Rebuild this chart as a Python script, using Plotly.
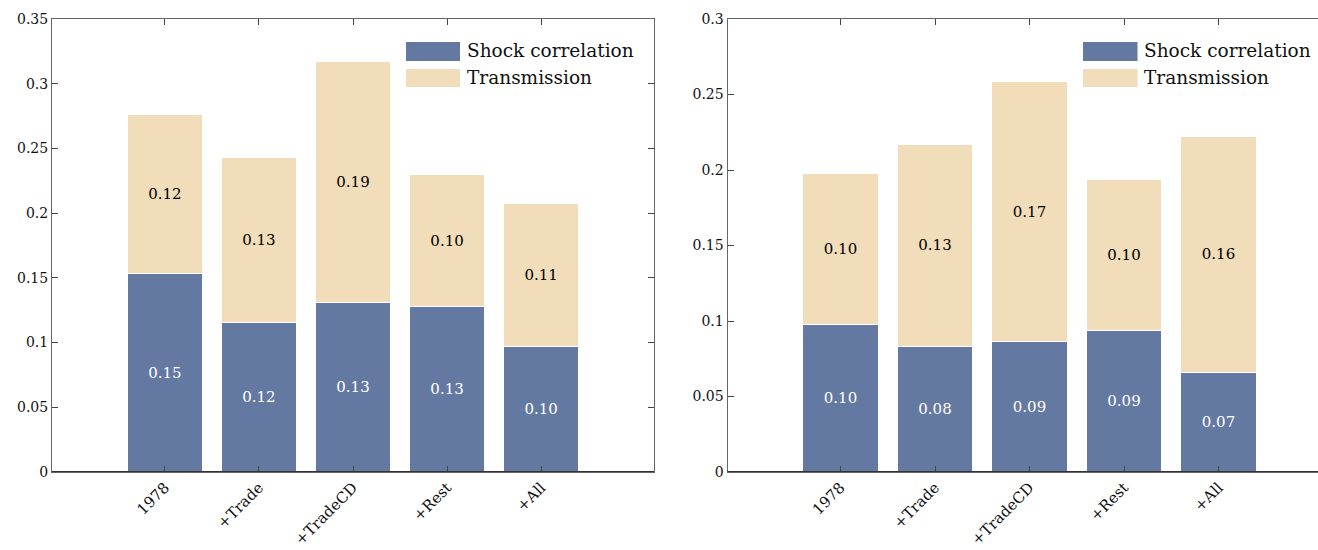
import plotly.graph_objects as go
from plotly.subplots import make_subplots

# Decomposition of comovement: shock correlation vs. transmission
categories = ["1978", "+Trade", "+TradeCD", "+Rest", "+All"]

left_shock = [0.153, 0.1152, 0.1313, 0.1275, 0.0966]
left_transmission = [0.123, 0.128, 0.186, 0.1027, 0.1105]

right_shock = [0.098, 0.0834, 0.0861, 0.094, 0.0662]
right_transmission = [0.0994, 0.1338, 0.1728, 0.0994, 0.1557]

series_names = ["Shock correlation", "Transmission"]
series_colors = ["#6479A1", "#F2DDBA"]
label_colors = ["white", "black"]

FONT = "DejaVu Serif"
W, H = 1318, 550

fig = make_subplots(rows=1, cols=2)

panels = [
    (1, [left_shock, left_transmission]),
    (2, [right_shock, right_transmission]),
]
xpos = list(range(len(categories)))

for col, series in panels:
    for name, vals, color, lc in zip(series_names, series, series_colors, label_colors):
        fig.add_trace(
            go.Bar(
                x=xpos,
                y=vals,
                name=name,
                width=0.8,
                marker=dict(color=color, line=dict(color="white", width=1)),
                texttemplate="%{y:.2f}",
                textposition="inside",
                insidetextanchor="middle",
                textangle=0,
                textfont=dict(family=FONT, size=15, color=lc),
                showlegend=False,
                hoverinfo="skip",
            ),
            row=1, col=col,
        )

# panel placement (pixels)
top_px, bot_px = 19, 472
left_panel = (52, 654)
right_panel = (727.5, 1318)

axis_common = dict(
    showline=True,
    linecolor="#666666",
    linewidth=1,
    ticks="inside",
    ticklen=6,
    tickcolor="#444444",
    tickwidth=1,
    showgrid=False,
    zeroline=False,
    tickfont=dict(family=FONT, size=14, color="#111111"),
    automargin=False,
)

xaxis_font = dict(family=FONT, size=15, color="#111111")

fig.update_layout(
    barmode="stack",
    width=W,
    height=H,
    margin=dict(l=0, r=0, t=top_px, b=H - bot_px),
    paper_bgcolor="white",
    plot_bgcolor="white",
    font=dict(family=FONT),
    xaxis=dict(
        domain=[left_panel[0] / W, left_panel[1] / W],
        range=[-1.2, 5.2],
        tickvals=xpos,
        ticktext=categories,
        tickangle=-45,
        mirror="ticks",
        **axis_common,
    ),
    yaxis=dict(
        range=[0, 0.35],
        tick0=0,
        dtick=0.05,
        mirror="ticks",
        **axis_common,
    ),
    xaxis2=dict(
        domain=[right_panel[0] / W, right_panel[1] / W],
        range=[-1.196, 5.053],
        tickvals=xpos,
        ticktext=categories,
        tickangle=-45,
        mirror="ticks",
        **axis_common,
    ),
    yaxis2=dict(
        range=[0, 0.3],
        tick0=0,
        dtick=0.05,
        mirror=False,
        **axis_common,
    ),
)
fig.update_xaxes(tickfont=xaxis_font)

# darker bar baseline along y = 0
for xa, ya in (("x", "y"), ("x2", "y2")):
    fig.add_shape(
        type="line", xref=f"{xa} domain", yref=ya,
        x0=0, x1=1, y0=0, y1=0,
        line=dict(color="#333333", width=2),
        layer="above",
    )

# legend boxes drawn inside each panel (upper right)
plot_h = bot_px - top_px
def ydom(px):
    return 1 - (px - top_px) / plot_h

legend_rows = [(42, 61, 50.5), (69, 87, 77)]
for (xa, ya), (pl, pr), (sx0, sx1, tx) in (
    (("x", "y"), left_panel, (406, 460, 465)),
    (("x2", "y2"), right_panel, (1083, 1137.5, 1142)),
):
    width = pr - pl
    for (y0, y1, yc), name, color in zip(legend_rows, series_names, series_colors):
        fig.add_shape(
            type="rect", xref=f"{xa} domain", yref=f"{ya} domain",
            x0=(sx0 - pl) / width, x1=(sx1 - pl) / width,
            y0=ydom(y1), y1=ydom(y0),
            fillcolor=color, line=dict(width=0),
        )
        fig.add_annotation(
            xref=f"{xa} domain", yref=f"{ya} domain",
            x=(tx - pl) / width, y=ydom(yc),
            xanchor="left", yanchor="middle",
            text=name, showarrow=False,
            font=dict(family=FONT, size=18.5, color="#111111"),
        )

fig.write_html("out.html")
